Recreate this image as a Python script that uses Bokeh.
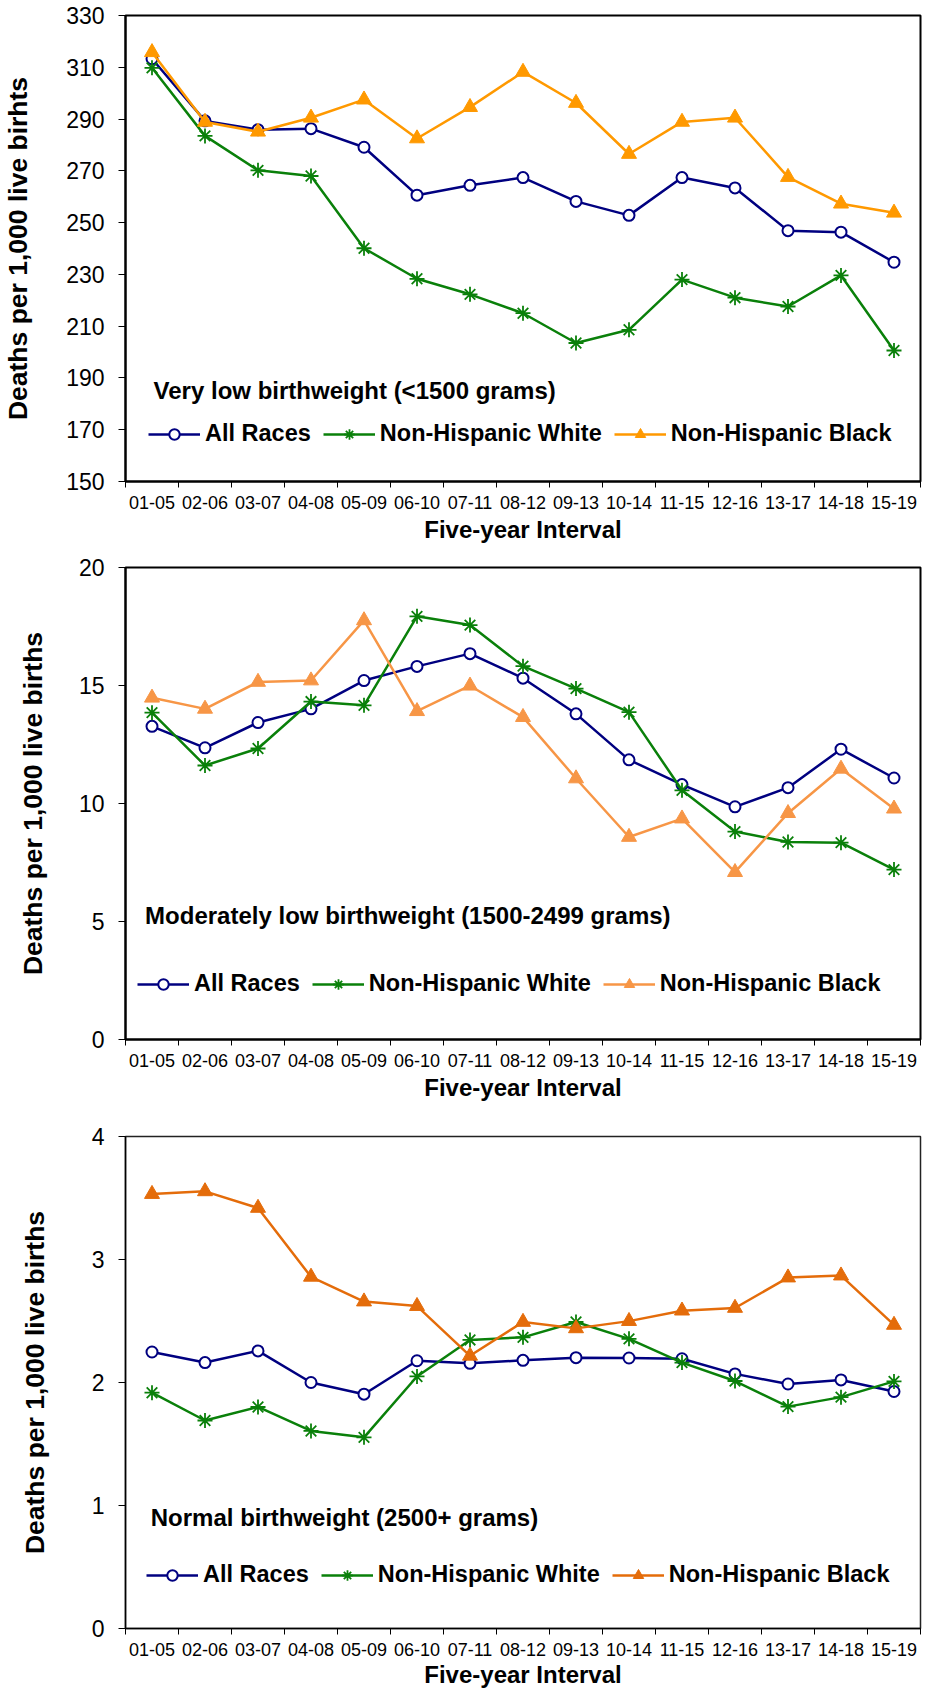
import numpy as np
from bokeh.plotting import figure
from bokeh.layouts import column
from bokeh.models import (Range1d, FixedTicker, CustomJSTickFormatter, Legend,
                          LegendItem, Label)
from bokeh.embed import file_html
from bokeh.resources import INLINE

# ---------------- data ----------------
intervals = ["01-05", "02-06", "03-07", "04-08", "05-09", "06-10", "07-11", "08-12",
             "09-13", "10-14", "11-15", "12-16", "13-17", "14-18", "15-19"]
series_names = ["All Races", "Non-Hispanic White", "Non-Hispanic Black"]

# Very low birthweight (<1500 grams)
vlbw_all = [313.3, 289.3, 285.9, 286.3, 279.1, 260.6, 264.4, 267.4, 258.2, 252.8,
            267.4, 263.4, 246.9, 246.3, 234.7]
vlbw_white = [309.8, 283.5, 270.2, 268.0, 240.1, 228.3, 222.3, 215.0, 203.5, 208.6,
              228.0, 221.0, 217.6, 229.6, 200.6]
vlbw_black = [315.8, 288.9, 285.1, 290.5, 297.5, 282.5, 294.6, 308.2, 296.2, 276.5,
              288.9, 290.5, 267.6, 257.3, 253.8]

# Moderately low birthweight (1500-2499 grams)
mlbw_all = [13.27, 12.36, 13.43, 14.01, 15.21, 15.81, 16.35, 15.31, 13.80, 11.85,
            10.80, 9.86, 10.67, 12.30, 11.08]
mlbw_white = [13.85, 11.61, 12.33, 14.32, 14.16, 17.93, 17.56, 15.82, 14.87, 13.87,
              10.56, 8.81, 8.37, 8.34, 7.20]
mlbw_black = [14.48, 14.01, 15.15, 15.21, 17.76, 13.91, 14.99, 13.66, 11.06, 8.58,
              9.36, 7.09, 9.59, 11.47, 9.78]

# Normal birthweight (2500+ grams)
nbw_all = [2.248, 2.162, 2.257, 2.000, 1.905, 2.177, 2.156, 2.180, 2.202, 2.199,
           2.193, 2.070, 1.988, 2.021, 1.927]
nbw_white = [1.917, 1.691, 1.801, 1.606, 1.554, 2.049, 2.346, 2.367, 2.492, 2.355,
             2.162, 2.012, 1.804, 1.881, 2.009]
nbw_black = [3.532, 3.554, 3.419, 2.859, 2.658, 2.621, 2.217, 2.492, 2.440, 2.499,
             2.584, 2.606, 2.853, 2.869, 2.468]

panel_notes = ["Very low birthweight (<1500 grams)",
               "Moderately low birthweight (1500-2499 grams)",
               "Normal birthweight (2500+ grams)"]
y_titles = ["Deaths per 1,000 live birhts",
            "Deaths per 1,000 live births",
            "Deaths per 1,000 live births"]
y_ticks_1 = [150, 170, 190, 210, 230, 250, 270, 290, 310, 330]
y_ticks_2 = [0, 5, 10, 15, 20]
y_ticks_3 = [0, 1, 2, 3, 4]
x_title = "Five-year Interval"

# ---------------- styling ----------------
FONT = "Liberation Sans"
NAVY = "#000080"
GREEN = "#0a800a"

n = len(intervals)
xs = np.arange(n) + 0.5
centers = list(xs)
bounds = list(np.arange(n + 1).astype(float))


def make_panel(vals, black_color, yticks, ytitle, note, note_xy, cfg):
    p = figure(width=933, height=cfg["height"],
               x_range=Range1d(0, n), y_range=Range1d(yticks[0], yticks[-1]),
               output_backend="svg", toolbar_location=None,
               min_border_left=cfg["bl"], min_border_right=cfg["br"],
               min_border_top=cfg["bt"], min_border_bottom=cfg["bb"])
    p.xgrid.visible = False
    p.ygrid.visible = False
    p.outline_line_color = cfg["outline"]
    p.outline_line_width = cfg["outline_w"]
    p.background_fill_color = "white"
    p.border_fill_color = "white"

    # x axis: labels at category centres, tick marks at category boundaries
    xa = p.xaxis[0]
    xa.ticker = FixedTicker(ticks=centers, minor_ticks=bounds)
    xa.formatter = CustomJSTickFormatter(
        args=dict(labels=intervals),
        code="const i = Math.floor(tick); return (i >= 0 && i < labels.length) ? labels[i] : '';")
    xa.major_tick_line_color = None
    xa.major_tick_out = 6
    xa.major_tick_in = 0
    xa.minor_tick_line_color = "black"
    xa.minor_tick_line_width = 1
    xa.minor_tick_out = 6
    xa.minor_tick_in = 0
    xa.axis_line_color = "black"
    xa.axis_line_width = cfg["outline_w"]
    xa.major_label_text_font = FONT
    xa.major_label_text_font_size = "18px"
    xa.major_label_text_color = "black"
    xa.major_label_standoff = cfg["x_std"]
    xa.axis_label = x_title
    xa.axis_label_text_font = FONT
    xa.axis_label_text_font_size = "24px"
    xa.axis_label_text_font_style = "bold"
    xa.axis_label_text_color = "black"
    xa.axis_label_standoff = cfg["x_lstd"]

    ya = p.yaxis[0]
    ya.ticker = FixedTicker(ticks=yticks)
    ya.major_tick_out = 7
    ya.major_tick_in = 0
    ya.major_tick_line_color = "black"
    ya.minor_tick_line_color = None
    ya.axis_line_color = "black"
    ya.axis_line_width = cfg["outline_w"]
    ya.major_label_text_font = FONT
    ya.major_label_text_font_size = "23px"
    ya.major_label_text_color = "black"
    ya.major_label_standoff = 14
    ya.axis_label = ytitle
    ya.axis_label_text_font = FONT
    ya.axis_label_text_font_size = "26.5px"
    ya.axis_label_text_font_style = "bold"
    ya.axis_label_text_color = "black"
    ya.axis_label_standoff = cfg["y_lstd"]

    colors = [NAVY, GREEN, black_color]
    items = []
    for name, v, c in zip(series_names, vals, colors):
        lr = p.line(xs, v, line_color=c, line_width=2.5)
        if name == "All Races":
            mr = p.scatter(xs, v, marker="circle", size=11, line_color=c,
                           line_width=2, fill_color="white")
        elif name == "Non-Hispanic White":
            mr = p.scatter(xs, v, marker="asterisk", size=15, line_color=c,
                           line_width=1.8)
        else:
            mr = p.scatter(xs, v, marker="triangle", size=15, line_color=c,
                           fill_color=c, line_width=1)
        items.append(LegendItem(label=name, renderers=[lr, mr]))

    legend = Legend(items=items, orientation="horizontal",
                    location=cfg["legend_loc"], padding=0, margin=0,
                    spacing=12, label_standoff=5, glyph_width=52,
                    glyph_height=26, label_height=26,
                    border_line_alpha=0, background_fill_alpha=0,
                    label_text_font=FONT, label_text_font_size="23.5px",
                    label_text_font_style="bold", label_text_color="black")
    p.add_layout(legend)

    p.add_layout(Label(x=note_xy[0], y=note_xy[1], text=note,
                       text_font=FONT, text_font_size="24px",
                       text_font_style="bold", text_color="black",
                       text_baseline="alphabetic", text_align="left"))
    return p


p1 = make_panel([vlbw_all, vlbw_white, vlbw_black], "#FF9900", y_ticks_1,
                y_titles[0], panel_notes[0], (0.53, 185.1),
                dict(height=546, bl=122, br=11, bt=15, bb=65, outline="black",
                     outline_w=2, x_std=8, x_lstd=4, y_lstd=30,
                     legend_loc=(23, 34)))
p2 = make_panel([mlbw_all, mlbw_white, mlbw_black], "#F79646", y_ticks_2,
                y_titles[1], panel_notes[1], (0.37, 5.27),
                dict(height=558, bl=121, br=13, bt=21, bb=65, outline="black",
                     outline_w=2, x_std=8, x_lstd=4, y_lstd=28,
                     legend_loc=(12, 42)))
p3 = make_panel([nbw_all, nbw_white, nbw_black], "#E46C0A", y_ticks_3,
                y_titles[2], panel_notes[2], (0.477, 0.90),
                dict(height=586, bl=125, br=9, bt=32, bb=61, outline="#222222",
                     outline_w=1.5, x_std=8, x_lstd=2, y_lstd=39,
                     legend_loc=(21, 40)))

layout = column(p1, p2, p3, spacing=0)
open("out.html", "w").write(file_html(layout, INLINE))
